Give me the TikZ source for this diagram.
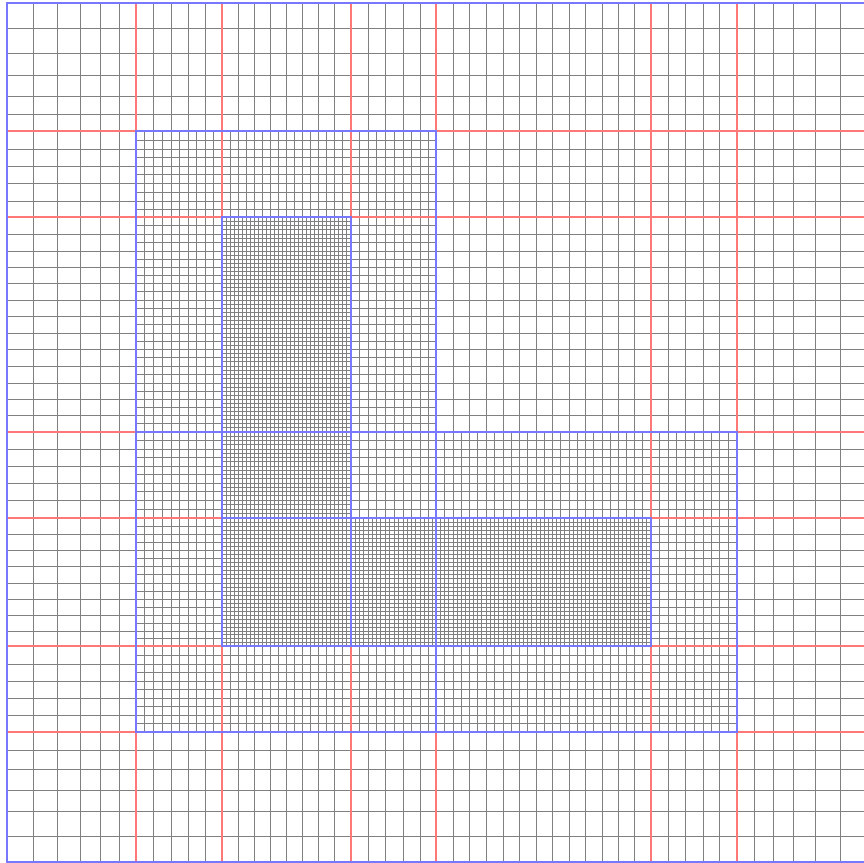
\documentclass[tikz,border=0pt]{standalone}
\usepackage{tikz}
\definecolor{gridgray}{RGB}{128,128,128}
\definecolor{boxred}{RGB}{255,120,120}
\definecolor{patchblue}{RGB}{120,120,255}

% coarse (stretched) grid lines, in pixels
\def\xs{{7,33,57,80,100,119,136,153,171,188,205,222,238,254,270,286,302,318,334,351,368,385,403,420,436,453,469,486,503,519,536,552,569,585,602,618,634,651,668,685,703,719,737,754,773,793,815,840,865}}
\def\ys{{3,28,53,75,96,114,131,149,166,183,201,217,234,251,267,283,300,316,333,349,366,383,399,415,432,449,466,483,500,518,534,550,566,583,599,615,631,646,664,681,698,715,732,750,769,790,811,836,862}}

% refined lines of one patch: level, x lines i0 i1, y lines j0 j1
\newcommand{\refpatch}[5]{%
  \pgfmathtruncatemacro{\nref}{2^#1}
  \pgfmathtruncatemacro{\nrefm}{\nref-1}
  \pgfmathtruncatemacro{\ilast}{#3-1}
  \pgfmathtruncatemacro{\jlast}{#5-1}
  \pgfmathsetmacro{\pxa}{\xs[#2]}
  \pgfmathsetmacro{\pxb}{\xs[#3]}
  \pgfmathsetmacro{\pya}{\ys[#4]}
  \pgfmathsetmacro{\pyb}{\ys[#5]}
  \foreach \i in {#2,...,\ilast} {
    \pgfmathtruncatemacro{\inext}{\i+1}
    \foreach \k in {1,...,\nrefm} {
      \pgfmathsetmacro{\xx}{\xs[\i]+\k*(\xs[\inext]-\xs[\i])/\nref}
      \draw[gridline] (\xx,\pya) -- (\xx,\pyb);
    }
  }
  \foreach \j in {#4,...,\jlast} {
    \pgfmathtruncatemacro{\jnext}{\j+1}
    \foreach \k in {1,...,\nrefm} {
      \pgfmathsetmacro{\yy}{\ys[\j]+\k*(\ys[\jnext]-\ys[\j])/\nref}
      \draw[gridline] (\pxa,\yy) -- (\pxb,\yy);
    }
  }
}

\begin{document}
\begin{tikzpicture}[
    x=1pt, y=-1pt,
    gridline/.style={draw=gridgray, line width=0.9pt},
    boxline/.style={draw=boxred, line width=1.1pt},
    patchline/.style={draw=patchblue, line width=1.1pt}
]
    \useasboundingbox (0,0) rectangle (864,862);
    \clip (0,0) rectangle (864,862);

    % Level 0
    \foreach \i in {0,...,48} {
        \pgfmathsetmacro{\xx}{\xs[\i]}
        \pgfmathsetmacro{\yy}{\ys[\i]}
        \draw[gridline] (\xx,3) -- (\xx,862);
        \draw[gridline] (7,\yy) -- (865,\yy);
    }

    % Level 1
    \refpatch{1}{6}{24}{6}{24}
    \refpatch{1}{6}{24}{24}{42}
    \refpatch{1}{24}{42}{24}{42}

    % Level 2
    \refpatch{2}{11}{19}{11}{29}
    \refpatch{2}{11}{19}{29}{37}
    \refpatch{2}{19}{37}{29}{37}

    % coarse box edges
    \foreach \i in {6,11,19,24,37,42} {
        \pgfmathsetmacro{\xx}{\xs[\i]}
        \draw[boxline] (\xx,3) -- (\xx,862);
    }
    \foreach \j in {6,11,24,29,37,42} {
        \pgfmathsetmacro{\yy}{\ys[\j]}
        \draw[boxline] (7,\yy) -- (865,\yy);
    }

    % patch outlines
    \draw[patchline] (7,3) rectangle (865,862);
    \foreach \ia/\ib/\ja/\jb in {6/24/6/24, 6/24/24/42, 24/42/24/42,
                                 11/19/11/29, 11/19/29/37, 19/37/29/37} {
        \pgfmathsetmacro{\pxa}{\xs[\ia]}
        \pgfmathsetmacro{\pxb}{\xs[\ib]}
        \pgfmathsetmacro{\pya}{\ys[\ja]}
        \pgfmathsetmacro{\pyb}{\ys[\jb]}
        \draw[patchline] (\pxa,\pya) rectangle (\pxb,\pyb);
    }
\end{tikzpicture}
\end{document}
